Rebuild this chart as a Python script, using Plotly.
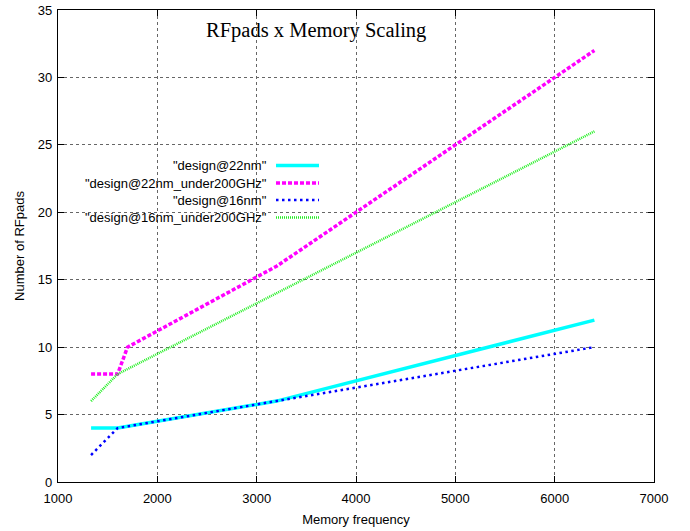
import plotly.graph_objects as go

# ---- data ----
freq_22nm = [1333, 1600, 3200, 6400]
pads_22nm = [4, 4, 6, 12]

freq_22nm_u200 = [1333, 1600, 1700, 3200, 6400]
pads_22nm_u200 = [8, 8, 10, 16, 32]

freq_16nm = [1333, 1600, 3200, 6400]
pads_16nm = [2, 4, 6, 10]

freq_16nm_u200 = [1333, 1600, 6400]
pads_16nm_u200 = [6, 8, 26]

series_names = ['"design@22nm"', '"design@22nm_under200GHz"',
                '"design@16nm"', '"design@16nm_under200GHz"']
x_ticks = [1000, 2000, 3000, 4000, 5000, 6000, 7000]
y_ticks = [0, 5, 10, 15, 20, 25, 30, 35]

styles = [
    dict(color="#00ffff", width=3.5, dash="solid"),
    dict(color="#ff00ff", width=3.5, dash="4px,2px"),
    dict(color="#0000ff", width=2.5, dash="2.5px,3.5px"),
    dict(color="#22ee22", width=2.5, dash="1px,1px"),
]
xs = [freq_22nm, freq_22nm_u200, freq_16nm, freq_16nm_u200]
ys = [pads_22nm, pads_22nm_u200, pads_16nm, pads_16nm_u200]

fig = go.Figure()
for name, x, y, st in zip(series_names, xs, ys, styles):
    fig.add_trace(go.Scatter(x=x, y=y, mode="lines", name=name,
                             line=st, showlegend=False, hoverinfo="skip"))

W, H = 690, 531
L, R, T, B = 58, 654, 10, 482
pw, ph = R - L, B - T
FONT = "Liberation Sans, Arial"


def px(xp):  # pixel -> paper x
    return (xp - L) / pw


def py(yp):  # pixel -> paper y
    return (B - yp) / ph


shapes = [dict(type="rect", xref="paper", yref="paper",
               x0=px(62), x1=px(326), y0=py(226), y1=py(157),
               fillcolor="white", line=dict(width=0), layer="between")]
annotations = []
rows = [165.5, 183, 200, 217.5]
for name, st, ry in zip(series_names, styles, rows):
    annotations.append(dict(xref="paper", yref="paper", x=px(269), y=py(ry),
                            text=name, showarrow=False, xanchor="right",
                            yanchor="middle",
                            font=dict(family=FONT, size=13, color="black")))
    shapes.append(dict(type="line", xref="paper", yref="paper",
                       x0=px(276), x1=px(319), y0=py(ry), y1=py(ry),
                       line=dict(color=st["color"], width=st["width"],
                                 dash=st["dash"]), layer="above"))

annotations.append(dict(xref="paper", yref="paper", x=px(316), y=py(31),
                        text="RFpads x Memory Scaling", showarrow=False,
                        xanchor="center", yanchor="middle",
                        font=dict(family="Liberation Serif, Times New Roman",
                                  size=20.5, color="black")))

axis_common = dict(showline=True, linecolor="black", linewidth=1.3, mirror="ticks",
                   ticks="inside", ticklen=6, tickcolor="black",
                   showgrid=True, gridcolor="#666666", griddash="dot",
                   gridwidth=1, zeroline=False, automargin=False,
                   tickfont=dict(family=FONT, size=13, color="black"))

fig.update_layout(
    width=W, height=H,
    margin=dict(l=L, r=W - R, t=T, b=H - B),
    paper_bgcolor="white", plot_bgcolor="white",
    hovermode=False,
    xaxis=dict(range=[1000, 7000], tickvals=x_ticks, ticklabelstandoff=4,
               title=dict(text="Memory frequency", standoff=10,
                          font=dict(family=FONT, size=13, color="black")),
               **axis_common),
    yaxis=dict(range=[0, 35], tickvals=y_ticks, ticklabelstandoff=2,
               title=dict(text="Number of RFpads", standoff=10,
                          font=dict(family=FONT, size=13, color="black")),
               **axis_common),
    shapes=shapes, annotations=annotations,
)

fig.write_html("out.html", config={"displayModeBar": False},
               post_script="document.body.style.margin='0';"
                           "document.body.style.overflow='hidden';")
